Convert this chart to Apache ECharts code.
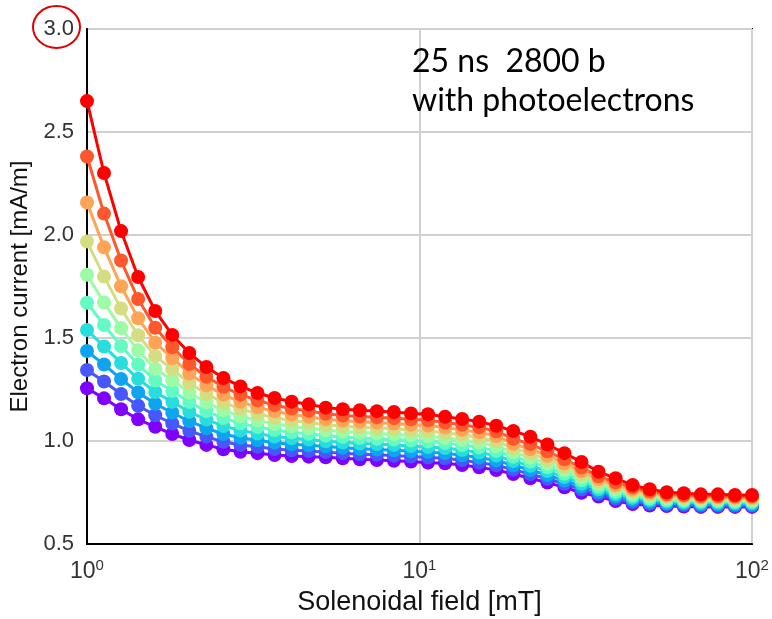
<!DOCTYPE html>
<html>
<head>
<meta charset="utf-8">
<script src="https://cdn.jsdelivr.net/npm/echarts@6/dist/echarts.min.js"></script>
<style>
  html, body { margin: 0; padding: 0; background: #fff; }
  #chart { width: 772px; height: 619px; }
</style>
</head>
<body>
<div id="chart"></div>
<script>
// solenoidal field [mT], 40 log-spaced points from 1 to 100
var fieldValues = [1.000, 1.125, 1.266, 1.425, 1.604, 1.805, 2.031, 2.286, 2.572, 2.894,
  3.257, 3.665, 4.125, 4.642, 5.223, 5.878, 6.615, 7.444, 8.377, 9.427,
  10.608, 11.938, 13.434, 15.118, 17.013, 19.145, 21.544, 24.245, 27.283, 30.703,
  34.551, 38.881, 43.755, 49.239, 55.410, 62.355, 70.170, 78.965, 88.862, 100.000];

// electron current [mA/m], lowest curve first
var current0 = [1.256, 1.207, 1.154, 1.105, 1.069, 1.034, 1.005, 0.981, 0.960, 0.948, 0.941, 0.932, 0.927, 0.924, 0.921, 0.916, 0.911, 0.908, 0.904, 0.900, 0.895, 0.892, 0.883, 0.872, 0.859, 0.840, 0.819, 0.798, 0.775, 0.749, 0.730, 0.709, 0.694, 0.687, 0.684, 0.682, 0.680, 0.680, 0.680, 0.680];
var current1 = [1.345, 1.289, 1.228, 1.171, 1.125, 1.085, 1.049, 1.021, 0.996, 0.981, 0.972, 0.961, 0.955, 0.951, 0.946, 0.941, 0.936, 0.933, 0.929, 0.925, 0.920, 0.916, 0.907, 0.895, 0.882, 0.861, 0.839, 0.817, 0.792, 0.764, 0.742, 0.720, 0.704, 0.695, 0.691, 0.689, 0.686, 0.686, 0.686, 0.686];
var current2 = [1.437, 1.371, 1.301, 1.236, 1.181, 1.137, 1.096, 1.062, 1.034, 1.016, 1.004, 0.992, 0.984, 0.979, 0.973, 0.967, 0.962, 0.959, 0.955, 0.950, 0.946, 0.941, 0.931, 0.920, 0.905, 0.882, 0.859, 0.835, 0.808, 0.779, 0.754, 0.731, 0.714, 0.704, 0.698, 0.696, 0.693, 0.693, 0.692, 0.692];
var current3 = [1.539, 1.459, 1.379, 1.302, 1.238, 1.190, 1.142, 1.104, 1.073, 1.051, 1.036, 1.022, 1.013, 1.007, 0.999, 0.993, 0.988, 0.985, 0.981, 0.976, 0.971, 0.966, 0.956, 0.944, 0.929, 0.903, 0.880, 0.854, 0.825, 0.794, 0.766, 0.742, 0.724, 0.713, 0.706, 0.703, 0.700, 0.700, 0.699, 0.699];
var current4 = [1.671, 1.563, 1.461, 1.371, 1.294, 1.243, 1.189, 1.145, 1.111, 1.086, 1.068, 1.053, 1.042, 1.035, 1.026, 1.020, 1.015, 1.011, 1.007, 1.002, 0.997, 0.990, 0.980, 0.969, 0.952, 0.924, 0.900, 0.872, 0.841, 0.809, 0.778, 0.753, 0.734, 0.721, 0.713, 0.710, 0.707, 0.707, 0.705, 0.705];
var current5 = [1.807, 1.672, 1.548, 1.440, 1.350, 1.296, 1.235, 1.187, 1.149, 1.121, 1.100, 1.083, 1.071, 1.062, 1.052, 1.046, 1.041, 1.037, 1.033, 1.028, 1.023, 1.015, 1.005, 0.993, 0.976, 0.945, 0.920, 0.891, 0.858, 0.824, 0.791, 0.764, 0.744, 0.730, 0.721, 0.717, 0.713, 0.713, 0.712, 0.712];
var current6 = [1.968, 1.798, 1.643, 1.513, 1.412, 1.349, 1.281, 1.229, 1.187, 1.156, 1.132, 1.113, 1.100, 1.090, 1.079, 1.072, 1.067, 1.063, 1.059, 1.053, 1.049, 1.040, 1.030, 1.017, 1.000, 0.965, 0.940, 0.909, 0.875, 0.838, 0.803, 0.775, 0.754, 0.739, 0.728, 0.724, 0.720, 0.720, 0.718, 0.718];
var current7 = [2.158, 1.940, 1.751, 1.596, 1.477, 1.402, 1.328, 1.270, 1.225, 1.190, 1.164, 1.144, 1.129, 1.118, 1.105, 1.098, 1.093, 1.089, 1.085, 1.079, 1.075, 1.065, 1.054, 1.042, 1.024, 0.986, 0.960, 0.928, 0.891, 0.853, 0.815, 0.786, 0.764, 0.747, 0.735, 0.731, 0.727, 0.727, 0.724, 0.724];
var current8 = [2.381, 2.104, 1.876, 1.689, 1.550, 1.455, 1.374, 1.312, 1.263, 1.225, 1.197, 1.174, 1.158, 1.146, 1.132, 1.124, 1.119, 1.115, 1.111, 1.105, 1.101, 1.090, 1.079, 1.066, 1.047, 1.011, 0.985, 0.950, 0.911, 0.871, 0.829, 0.799, 0.775, 0.756, 0.743, 0.738, 0.733, 0.733, 0.731, 0.731];
var current9 = [2.650, 2.301, 2.019, 1.796, 1.631, 1.515, 1.427, 1.359, 1.306, 1.265, 1.233, 1.209, 1.191, 1.178, 1.162, 1.154, 1.149, 1.145, 1.141, 1.134, 1.130, 1.118, 1.107, 1.094, 1.074, 1.049, 1.021, 0.983, 0.941, 0.898, 0.851, 0.819, 0.786, 0.766, 0.751, 0.746, 0.741, 0.741, 0.738, 0.738];

var allCurrents = [current0, current1, current2, current3, current4, current5, current6, current7, current8, current9];
var curveColors = ['#8000ff', '#4757fb', '#0ea4f0', '#2adddd', '#63fbc3', '#9cfba4', '#d4dd80', '#ffa457', '#ff572c', '#ff0000'];
var noteLines = ['25 ns  2800 b', 'with photoelectrons'];

var FONT = '"Liberation Sans", Arial, sans-serif';
var myChart = echarts.init(document.getElementById('chart'), null, {renderer: 'canvas'});

var series = allCurrents.map(function(vals, k) {
  return {
    name: 'curve' + k,
    type: 'line',
    data: fieldValues.map(function(x, i) { return [x, vals[i]]; }),
    symbol: 'circle',
    symbolSize: 14,
    showSymbol: true,
    clip: true,
    lineStyle: {color: curveColors[k], width: 3},
    itemStyle: {color: curveColors[k]},
    emphasis: {disabled: true},
    animation: false
  };
});

var option = {
  backgroundColor: '#fff',
  animation: false,
  grid: {
    left: 87, right: 20, top: 29, bottom: 75,
    containLabel: false,
    outerBoundsMode: 'none',
    show: true, borderColor: '#000', borderWidth: 2, backgroundColor: '#fff'
  },
  xAxis: {
    type: 'log',
    logBase: 10,
    min: 1,
    max: 100,
    name: 'Solenoidal field [mT]',
    nameLocation: 'middle',
    nameGap: 45,
    nameTextStyle: {fontFamily: FONT, fontSize: 27, color: '#111'},
    axisLine: {show: true, lineStyle: {color: '#000', width: 2}},
    axisTick: {show: false},
    splitLine: {show: true, lineStyle: {color: '#d0d0d0', width: 2}},
    axisLabel: {
      margin: 14,
      formatter: function(v) {
        return '{b|10}{e|' + Math.round(Math.log(v) / Math.LN10) + '}';
      },
      rich: {
        b: {fontFamily: FONT, fontSize: 23, color: '#333'},
        e: {fontFamily: FONT, fontSize: 15, color: '#333', padding: [0, 0, 13, 0]}
      }
    }
  },
  yAxis: {
    type: 'value',
    min: 0.5,
    max: 3.0,
    interval: 0.5,
    name: 'Electron current [mA/m]',
    nameLocation: 'middle',
    nameGap: 53,
    nameTextStyle: {fontFamily: FONT, fontSize: 24, color: '#111'},
    axisLine: {show: true, lineStyle: {color: '#000', width: 2}},
    axisTick: {show: false},
    splitLine: {show: true, lineStyle: {color: '#d0d0d0', width: 2}},
    axisLabel: {
      margin: 13,
      fontFamily: FONT,
      fontSize: 22,
      color: '#333',
      formatter: function(v) { return v.toFixed(1); }
    }
  },
  graphic: [
    {
      type: 'ellipse',
      shape: {cx: 56.5, cy: 27, rx: 23.5, ry: 21},
      style: {fill: null, stroke: '#e00000', lineWidth: 2},
      z: 100
    },
    {
      type: 'text',
      left: 412,
      top: 42,
      style: {
        text: noteLines.join('\n'),
        font: '32px Lato, "Open Sans", sans-serif',
        lineHeight: 39,
        fill: '#000'
      },
      z: 100
    }
  ],
  series: series
};

myChart.setOption(option);
</script>
</body>
</html>
